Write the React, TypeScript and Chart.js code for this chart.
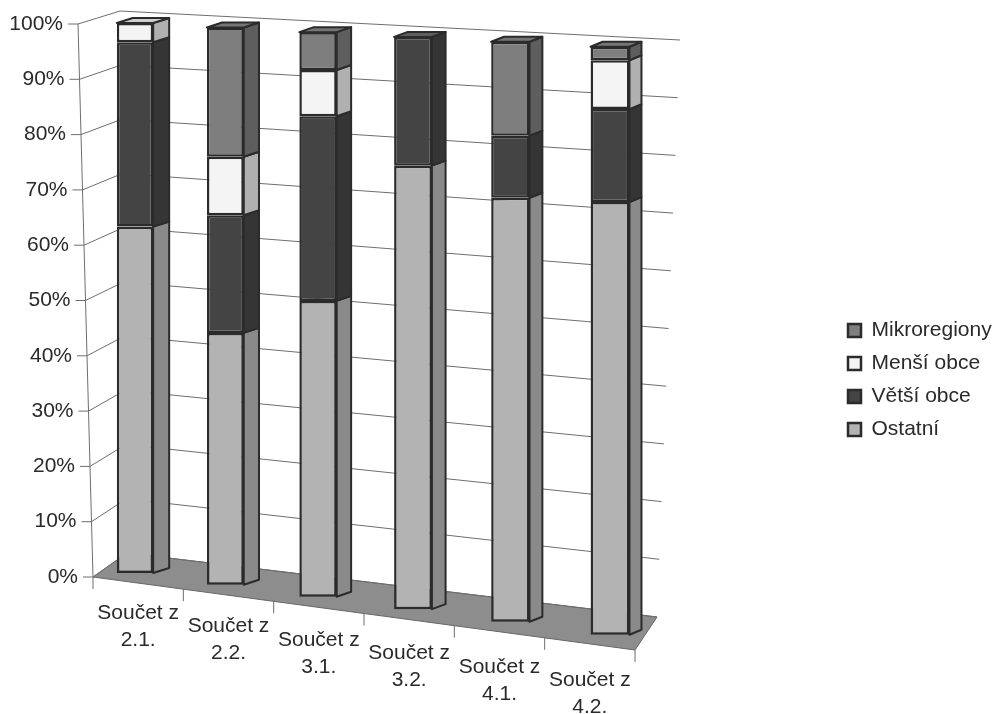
import { useEffect, useRef } from "react";
import { Chart, registerables } from "chart.js";

Chart.register(...registerables);

// ---------- data ----------
const categories: string[][] = [
  ["Součet z", "2.1."],
  ["Součet z", "2.2."],
  ["Součet z", "3.1."],
  ["Součet z", "3.2."],
  ["Součet z", "4.1."],
  ["Součet z", "4.2."],
];
const seriesNames = ["Ostatní", "Větší obce", "Menší obce", "Mikroregiony"];
const ostatni = [63.0, 45.2, 52.4, 77.5, 73.1, 73.6];
const vetsiObce = [33.5, 21.1, 32.7, 22.5, 10.7, 15.8];
const mensiObce = [3.5, 10.5, 8.2, 0, 0, 8.3];
const mikroregiony = [0, 23.2, 6.7, 0, 16.2, 2.3];
const yTickStep = 10;
const yMax = 100;

// ---------- styles ----------
const frontColors = ["#b3b3b3", "#444444", "#f4f4f4", "#7e7e7e"];
const sideColors = ["#8a8a8a", "#353535", "#b0b0b0", "#5e5e5e"];
const topColors = ["#cdcdcd", "#5e5e5e", "#cfcfcf", "#767676"];
const BORDER = "#2b2b2b";
const TEXT = "#2a2a2a";
const GRID = "#6e6e6e";
const FLOOR = "#8d8d8d";
const FONT = "'Liberation Sans', Arial, sans-serif";

// ---------- scene geometry ----------
const CW = 997;
const CH = 714;
const PLOT_LEFT = 88;
const PLOT_TOP = 24;
const PLOT_BOTTOM = 577;
const PLOT_RIGHT = 658;
const LEGEND_X = 836;
const LEGEND_DY = 11;

type P = { x: number; y: number };
const lerp = (a: P, b: P, t: number): P => ({ x: a.x + (b.x - a.x) * t, y: a.y + (b.y - a.y) * t });
const AXIS_B: P = { x: 93, y: 577 };
const AXIS_T: P = { x: 78, y: 24 };
const BACK_BL: P = { x: 127, y: 553 };
const BACK_TL: P = { x: 120, y: 11 };
const BACK_TR: P = { x: 680, y: 40 };
const BACK_BR: P = { x: 657, y: 617 };
const FLOOR_FR: P = { x: 635, y: 650 };

const fracOf = (chart: any, py: number) => {
  const a = chart.chartArea;
  return (a.bottom - py) / (a.bottom - a.top);
};

const depthAt = (x: number) => ({ dx: 16 - 0.0084 * (x - 135), dy: -5 });

const scenePlugin = {
  id: "scene3d",
  afterInit(chart: any) {
    const lg = chart.legend;
    if (lg) {
      const fit = lg.fit.bind(lg);
      lg.fit = function () {
        fit();
        this.width = CW - PLOT_RIGHT;
      };
    }
  },
  afterLayout(chart: any) {
    const lg = chart.legend;
    if (lg) {
      lg.left = LEGEND_X;
      lg.right = CW;
      lg.top += LEGEND_DY;
      lg.bottom += LEGEND_DY;
    }
  },
  afterDatasetsUpdate(chart: any) {
    const a = chart.chartArea;
    const n = chart.data.labels.length;
    const catW = (a.right - a.left) / n;
    chart.data.datasets.forEach((_ds: any, d: number) => {
      const meta = chart.getDatasetMeta(d);
      meta.data.forEach((el: any) => {
        const fi = (el.x - a.left) / catW - 0.5;
        const X = 135 + 89.17 * fi + 1.167 * fi * fi;
        const B = 573 + 0.13 * (X - 135);
        const Hh = 550 + 0.08 * (X - 135);
        const ft = (a.bottom - el.y) / (a.bottom - a.top);
        const fb = (a.bottom - el.base) / (a.bottom - a.top);
        el.x = X;
        el.y = B - ft * Hh;
        el.base = B - fb * Hh;
        el.width = (el.width * Hh) / 575;
        el.height = el.base - el.y;
      });
    });
  },
  beforeDraw(chart: any) {
    const xs = chart.scales.x;
    const ys = chart.scales.y;
    const xItems = xs.getLabelItems();
    if (!xItems._adj) {
      const n = xItems.length;
      xItems.forEach((it: any, i: number) => {
        const t = (i + 0.5) / n;
        const p = lerp(AXIS_B, FLOOR_FR, t);
        const lh = it.font.lineHeight;
        it.options.translation = [p.x, p.y + 29 + 8 * t - lh / 2];
      });
      xItems._adj = true;
    }
    const yItems = ys.getLabelItems();
    if (!yItems._adj) {
      yItems.forEach((it: any) => {
        const v = fracOf(chart, it.options.translation[1]);
        const f = lerp(AXIS_B, AXIS_T, v);
        it.options.translation = [f.x - 15, it.options.translation[1]];
      });
      yItems._adj = true;
    }
  },
  beforeDatasetsDraw(chart: any) {
    const ctx = chart.ctx;
    const ys = chart.scales.y;
    ctx.save();
    // floor
    ctx.beginPath();
    ctx.moveTo(AXIS_B.x, AXIS_B.y);
    ctx.lineTo(BACK_BL.x, BACK_BL.y);
    ctx.lineTo(BACK_BR.x, BACK_BR.y);
    ctx.lineTo(FLOOR_FR.x, FLOOR_FR.y);
    ctx.closePath();
    ctx.fillStyle = FLOOR;
    ctx.fill();
    ctx.strokeStyle = "#666";
    ctx.lineWidth = 1;
    ctx.stroke();
    // walls gridlines
    ctx.strokeStyle = GRID;
    ctx.lineWidth = 1;
    ys.ticks.forEach((t: any) => {
      const v = fracOf(chart, ys.getPixelForValue(t.value));
      const f = lerp(AXIS_B, AXIS_T, v);
      const l = lerp(BACK_BL, BACK_TL, v);
      const r = lerp(BACK_BR, BACK_TR, v);
      ctx.beginPath();
      ctx.moveTo(f.x - 10, f.y);
      ctx.lineTo(f.x, f.y);
      ctx.lineTo(l.x, l.y);
      ctx.lineTo(r.x, r.y);
      ctx.stroke();
    });
    // axis line
    ctx.beginPath();
    ctx.moveTo(AXIS_B.x, AXIS_B.y);
    ctx.lineTo(AXIS_T.x, AXIS_T.y);
    ctx.stroke();
    // category ticks on floor front edge
    const n = chart.data.labels.length;
    for (let j = 0; j <= n; j++) {
      const p = lerp(AXIS_B, FLOOR_FR, j / n);
      ctx.beginPath();
      ctx.moveTo(p.x, p.y);
      ctx.lineTo(p.x, p.y + 12);
      ctx.stroke();
    }
    ctx.restore();
  },
  afterDatasetsDraw(chart: any) {
    const ctx = chart.ctx;
    const nDs = chart.data.datasets.length;
    const nCat = chart.data.labels.length;
    ctx.save();
    ctx.lineWidth = 2;
    ctx.strokeStyle = BORDER;
    ctx.lineJoin = "round";
    for (let j = 0; j < nCat; j++) {
      let topIdx = -1;
      for (let d = 0; d < nDs; d++) {
        const val = chart.data.datasets[d].data[j];
        if (!val) continue;
        topIdx = d;
        const el: any = chart.getDatasetMeta(d).data[j];
        const xr = el.x + el.width / 2;
        const { dx, dy } = depthAt(el.x);
        ctx.beginPath();
        ctx.moveTo(xr, el.y);
        ctx.lineTo(xr + dx, el.y + dy);
        ctx.lineTo(xr + dx, el.base + dy);
        ctx.lineTo(xr, el.base);
        ctx.closePath();
        ctx.fillStyle = sideColors[d];
        ctx.fill();
        ctx.stroke();
      }
      if (topIdx >= 0) {
        const el: any = chart.getDatasetMeta(topIdx).data[j];
        const xl = el.x - el.width / 2;
        const xr = el.x + el.width / 2;
        const { dx, dy } = depthAt(el.x);
        ctx.beginPath();
        ctx.moveTo(xl, el.y);
        ctx.lineTo(xr, el.y);
        ctx.lineTo(xr + dx, el.y + dy);
        ctx.lineTo(xl + dx, el.y + dy);
        ctx.closePath();
        ctx.fillStyle = topColors[topIdx];
        ctx.fill();
        ctx.stroke();
      }
    }
    ctx.restore();
  },
};

export default function App() {
  const ref = useRef<HTMLCanvasElement>(null);
  useEffect(() => {
    document.body.style.margin = "0";
    const seriesValues = [ostatni, vetsiObce, mensiObce, mikroregiony];
    const chart = new Chart(ref.current as HTMLCanvasElement, {
      type: "bar",
      data: {
        labels: categories,
        datasets: seriesNames.map((name, d) => ({
          label: name,
          data: seriesValues[d],
          backgroundColor: frontColors[d],
          borderColor: BORDER,
          borderWidth: 2.5,
          borderSkipped: false,
          barPercentage: 0.4,
          categoryPercentage: 1,
          clip: false as any,
        })),
      },
      options: {
        responsive: false,
        animation: false,
        devicePixelRatio: 1,
        layout: { padding: { top: PLOT_TOP, left: 0, right: 0, bottom: 0 } },
        font: { family: FONT },
        plugins: {
          tooltip: { enabled: false },
          legend: {
            position: "right",
            reverse: true,
            labels: {
              boxWidth: 13,
              boxHeight: 13,
              padding: 12,
              color: TEXT,
              font: { size: 21, family: FONT },
            },
          },
        },
        scales: {
          x: {
            stacked: true,
            grid: { display: false },
            border: { display: false },
            ticks: {
              color: TEXT,
              autoSkip: false,
              maxRotation: 0,
              font: { size: 21, family: FONT, lineHeight: 1.3 },
            },
            afterFit: (s: any) => {
              s.height = CH - PLOT_BOTTOM;
            },
          },
          y: {
            stacked: true,
            min: 0,
            max: yMax,
            grid: { display: false },
            border: { display: false },
            ticks: {
              stepSize: yTickStep,
              color: TEXT,
              font: { size: 21, family: FONT },
              callback: (v: any) => v + "%",
            },
            afterFit: (s: any) => {
              s.width = PLOT_LEFT;
            },
          },
        },
      } as any,
      plugins: [scenePlugin],
    });
    return () => chart.destroy();
  }, []);
  return (
    <div style={{ width: CW, height: CH, background: "#fff" }}>
      <canvas ref={ref} width={CW} height={CH} style={{ display: "block" }} />
    </div>
  );
}
